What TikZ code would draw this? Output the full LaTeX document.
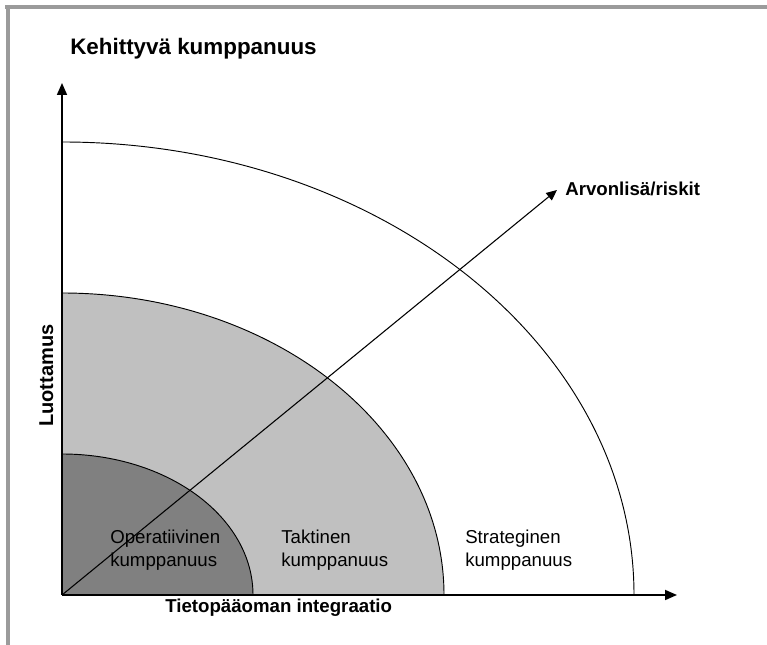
\documentclass[tikz,border=0pt]{standalone}
\usepackage{fontspec}
\setmainfont{Liberation Sans}
\usetikzlibrary{arrows.meta}
\definecolor{framegray}{RGB}{155,155,155}
\definecolor{zoneinner}{RGB}{128,128,128}
\definecolor{zonemid}{RGB}{192,192,192}
\begin{document}
\begin{tikzpicture}[x=0.75pt,y=0.75pt,
  axis/.style={line width=1.3pt, -{Triangle[length=9pt,width=7.5pt]}},
  diag/.style={line width=0.8pt, -{Triangle[length=8pt,width=7pt]}},
  boundary/.style={line width=0.7pt},
  zonelabel/.style={inner sep=0pt, font=\fontsize{14}{17.25}\selectfont, align=left},
  axislabel/.style={inner sep=0pt, font=\fontsize{14}{17}\selectfont\bfseries}]
\useasboundingbox (0,0) rectangle (767,645);
% page frame
\fill[framegray] (5,636) rectangle (767,640);
\fill[framegray] (6,0) rectangle (10,640);
% origin and axis ends
\coordinate (O) at (62,50);
\coordinate (ytip) at (62,562);
\coordinate (xtip) at (677,50);
\coordinate (dtip) at (557,455);
% zones
\fill[zonemid] (O) -- ++(382,0) arc[start angle=0,end angle=90,x radius=382,y radius=302] -- cycle;
\fill[zoneinner] (O) -- ++(191,0) arc[start angle=0,end angle=90,x radius=191,y radius=141] -- cycle;
\draw[boundary] (O) ++(572,0) arc[start angle=0,end angle=90,x radius=572,y radius=453];
\draw[boundary] (O) ++(382,0) arc[start angle=0,end angle=90,x radius=382,y radius=302];
\draw[boundary] (O) ++(191,0) arc[start angle=0,end angle=90,x radius=191,y radius=141];
% value/risk direction
\draw[diag] (O) -- (dtip);
% axes
\draw[axis] (O) -- (ytip);
\draw[axis] (O) -- (xtip);
% texts
\node[inner sep=0pt, anchor=base west, font=\fontsize{16.8}{20}\selectfont\bfseries] (title) at (70,590) {Kehittyvä kumppanuus};
\node[axislabel, anchor=base west] (arvo) at (565,449) {Arvonlisä/riskit};
\node[axislabel, anchor=base west] (xlab) at (165,32) {Tietopääoman integraatio};
\node[axislabel, anchor=base west, rotate=90, font=\fontsize{15}{18}\selectfont\bfseries] (ylab) at (53,218) {Luottamus};
\node[zonelabel, anchor=base west] (oper) at (110,78) {Operatiivinen\\kumppanuus};
\node[zonelabel, anchor=base west] (takt) at (281,78) {Taktinen\\kumppanuus};
\node[zonelabel, anchor=base west] (strat) at (465,78) {Strateginen\\kumppanuus};
\end{tikzpicture}
\end{document}
